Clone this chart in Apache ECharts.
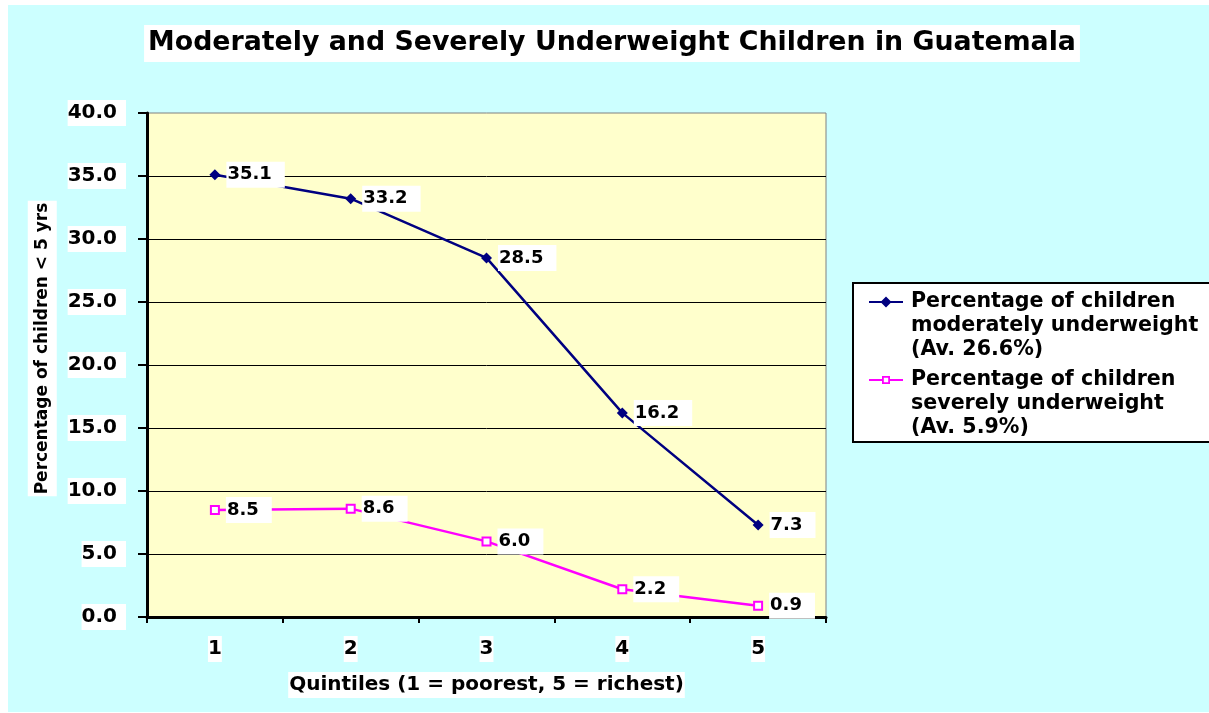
<!DOCTYPE html>
<html>
<head>
<meta charset="utf-8">
<script src="https://cdn.jsdelivr.net/npm/echarts@6/dist/echarts.min.js"></script>
<style>html,body{margin:0;padding:0;background:#fff}#c{width:1209px;height:713px}</style>
</head>
<body>
<div id="c"></div>
<script>
const titleText = 'Moderately and Severely Underweight Children in Guatemala';
const categories = ['1', '2', '3', '4', '5'];
const moderate = [35.1, 33.2, 28.5, 16.2, 7.3];
const severe = [8.5, 8.6, 6.0, 2.2, 0.9];
const seriesNames = [
  'Percentage of children moderately underweight (Av. 26.6%)',
  'Percentage of children severely underweight (Av. 5.9%)'
];
const legendLines = [
  ['Percentage of children', 'moderately underweight', '(Av. 26.6%)'],
  ['Percentage of children', 'severely underweight', '(Av. 5.9%)']
];
const yAxisName = 'Percentage of children < 5 yrs';
const xAxisName = 'Quintiles (1 = poorest, 5 = richest)';
const yMin = 0, yMax = 40, yStep = 5;

const FONT = 'DejaVu Sans';
const navy = '#000080';
const pink = '#FF00FF';

const iconModerate = 'path://M0,0M0,11L34,11L34,13L0,13ZM17,6.5L22.5,12L17,17.5L11.5,12ZM34,72';
const iconSevere = 'path://M0,0M0,11L13,11L13,13L0,13ZM21,11L34,11L34,13L21,13ZM13,8L21,8L21,16L13,16ZM14.8,9.8L14.8,14.2L19.2,14.2L19.2,9.8ZM34,72';

const chart = echarts.init(document.getElementById('c'), null, {renderer: 'canvas'});
const labelBase = {
  show: true, position: 'right', distance: 6,
  fontFamily: FONT, fontWeight: 'bold', fontSize: 18, color: '#000',
  backgroundColor: '#fff', padding: [4, 13, 4, 1],
  formatter: p => Number(p.value).toFixed(1)
};
chart.setOption({
  animation: false,
  backgroundColor: '#CCFFFF',
  graphic: [
    {type: 'rect', shape: {x: 0, y: 0, width: 8, height: 713}, style: {fill: '#fff'}, silent: true},
    {type: 'rect', shape: {x: 0, y: 0, width: 1209, height: 5}, style: {fill: '#fff'}, silent: true},
    {type: 'rect', shape: {x: 0, y: 712, width: 1209, height: 1}, style: {fill: '#fff'}, silent: true}
  ],
  title: {
    text: titleText, left: 608, textAlign: 'center', top: 25,
    backgroundColor: '#fff', padding: [5, 4, 5, 4],
    textStyle: {fontFamily: FONT, fontWeight: 'bold', fontSize: 26.8, color: '#000'}
  },
  legend: {
    orient: 'vertical', left: 853, top: 283,
    padding: [7, 20, 2, 16], itemGap: 6,
    itemWidth: 34, itemHeight: 72,
    backgroundColor: '#fff', borderColor: '#000', borderWidth: 2,
    selectedMode: false,
    itemStyle: {borderWidth: 0},
    data: [
      {name: seriesNames[0], icon: iconModerate},
      {name: seriesNames[1], icon: iconSevere}
    ],
    formatter: name => legendLines[seriesNames.indexOf(name)].join('\n'),
    textStyle: {fontFamily: FONT, fontWeight: 'bold', fontSize: 20.6, lineHeight: 24, color: '#000', padding: [0, 0, 0, 3]}
  },
  grid: {
    left: 147, right: 383, top: 113, bottom: 96,
    show: true, backgroundColor: '#FFFFCC', borderColor: '#808080', borderWidth: 1
  },
  xAxis: {
    type: 'category', data: categories, boundaryGap: true,
    name: xAxisName, nameLocation: 'middle', nameGap: 55,
    nameTextStyle: {fontFamily: FONT, fontWeight: 'bold', fontSize: 20, color: '#000', backgroundColor: '#fff', padding: [3, 1, 3, 1]},
    axisLine: {lineStyle: {color: '#000', width: 3}},
    axisTick: {show: true, inside: false, length: 6, lineStyle: {color: '#000', width: 2}},
    axisLabel: {margin: 19, fontFamily: FONT, fontWeight: 'bold', fontSize: 20, color: '#000', backgroundColor: '#fff', padding: [3, 0, 3, 0]},
    splitLine: {show: false}
  },
  yAxis: {
    type: 'value', min: yMin, max: yMax, interval: yStep,
    name: '{n|' + yAxisName + '}', nameLocation: 'middle', nameGap: 89,
    nameTextStyle: {
      padding: [0, 0, 0, 33],
      rich: {n: {fontFamily: FONT, fontWeight: 'bold', fontSize: 17, color: '#000', backgroundColor: '#fff', padding: [6, 2, 6, 2]}}
    },
    axisLine: {show: true, lineStyle: {color: '#000', width: 3}},
    axisTick: {show: true, inside: false, length: 9, lineStyle: {color: '#000', width: 2}},
    axisLabel: {margin: 21, fontFamily: FONT, fontWeight: 'bold', fontSize: 20, color: '#000', backgroundColor: '#fff', padding: [3, 9, 3, 0],
      formatter: v => v.toFixed(1)},
    splitLine: {show: true, showMaxLine: false, lineStyle: {color: '#000', width: 1}}
  },
  series: [
    {
      name: seriesNames[0], type: 'line', data: moderate,
      symbol: 'diamond', symbolSize: 11,
      lineStyle: {color: navy, width: 2.5},
      itemStyle: {color: navy},
      label: labelBase, silent: true
    },
    {
      name: seriesNames[1], type: 'line', data: severe,
      symbol: 'emptyRect', symbolSize: 8,
      lineStyle: {color: pink, width: 2.5},
      itemStyle: {color: pink, borderColor: pink, borderWidth: 2},
      label: labelBase, silent: true
    }
  ]
});
</script>
</body>
</html>
